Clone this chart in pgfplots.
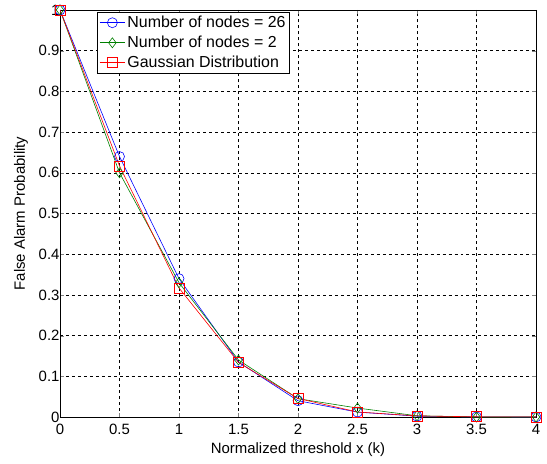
\documentclass[border=0pt]{standalone}
\usepackage{fontspec}
\setmainfont{Liberation Sans}
\usepackage{pgfplots}
\pgfplotsset{compat=1.18}
\usetikzlibrary{calc}
\definecolor{mblue}{RGB}{0,0,255}
\definecolor{mgreen}{RGB}{0,128,0}
\definecolor{mred}{RGB}{255,0,0}

\begin{document}
\begin{tikzpicture}
\begin{axis}[
    name=ax,
    scale only axis,
    width=476bp, height=407bp,
    xmin=0, xmax=4, ymin=0, ymax=1,
    xtick={0,0.5,...,4}, ytick={0,0.1,...,1},
    xticklabels={0,0.5,1,1.5,2,2.5,3,3.5,4},
    yticklabels={0,0.1,0.2,0.3,0.4,0.5,0.6,0.7,0.8,0.9,1},
    tick align=inside, tick pos=both,
    major tick length=4bp,
    grid=major, grid style={black, dashed, line width=0.5pt},
    axis line style={black, line width=0.6pt},
    tick label style={font=\fontsize{15}{17}\selectfont},
    xticklabel style={yshift=-4bp},
    yticklabel style={xshift=3bp},
    label style={font=\fontsize{15}{17}\selectfont},
    xlabel={Normalized threshold x (k)},
    ylabel={False Alarm Probability},
    xlabel style={at={(axis description cs:0.5,-0.081)}, anchor=center},
    ylabel style={at={(axis description cs:-0.082,0.5)}, anchor=center},
    legend style={at={(0.078,0.995)}, anchor=north west, draw=black,
        font=\fontsize{16}{18}\selectfont, row sep=3pt, inner sep=2pt},
    legend cell align=left,
    legend image code/.code={\draw[mark repeat=2,mark phase=2]
        plot coordinates {(0cm,0cm) (0.45cm,0cm) (0.9cm,0cm)};},
    every axis plot/.append style={line width=0.6pt, mark size=5bp},
]
\addplot[mblue, mark=o] coordinates {
(0,1) (0.5,0.64) (1,0.34) (1.5,0.135) (2,0.04) (2.5,0.012) (3,0.002) (3.5,0.0003) (4,0)};
\addplot[mgreen, mark=diamond] coordinates {
(0,1) (0.5,0.60) (1,0.33) (1.5,0.14) (2,0.045) (2.5,0.022) (3,0.003) (3.5,0) (4,0)};
\addplot[mred, mark=square] coordinates {
(0,1) (0.5,0.617) (1,0.317) (1.5,0.134) (2,0.0455) (2.5,0.0124) (3,0.0027) (3.5,0.0005) (4,0.0001)};
\legend{Number of nodes = 26, Number of nodes = 2, Gaussian Distribution}
\end{axis}
\pgfresetboundingbox
\path[use as bounding box] ($(ax.south west)+(-60bp,-47bp)$) rectangle ($(ax.north east)+(11bp,10bp)$);
\end{tikzpicture}
\end{document}
